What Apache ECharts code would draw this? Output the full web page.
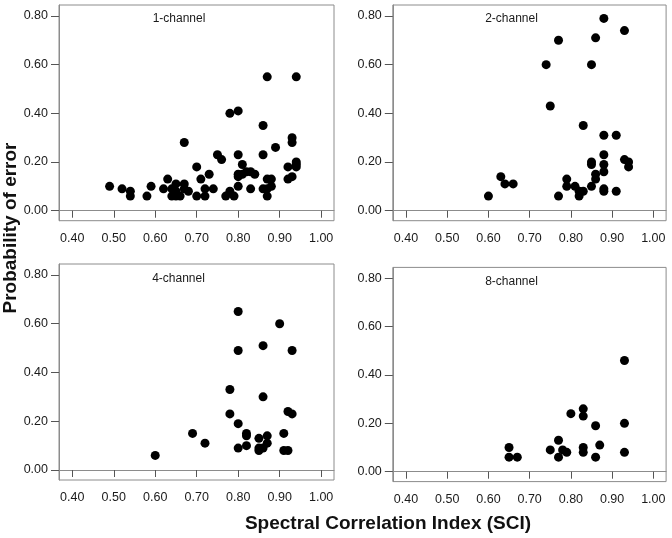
<!DOCTYPE html>
<html>
<head>
<meta charset="utf-8">
<script src="https://cdn.jsdelivr.net/npm/echarts@6/dist/echarts.min.js"></script>
<style>
html,body{margin:0;padding:0;background:#fff;}
#chart{width:672px;height:538px;}
</style>
</head>
<body>
<div id="chart"></div>
<script>
const xTicks = [0.4, 0.5, 0.6, 0.7, 0.8, 0.9, 1.0];
const yTicks = [0, 0.2, 0.4, 0.6, 0.8];
const panelNames = ['1-channel', '2-channel', '4-channel', '8-channel'];
const xTitle = 'Spectral Correlation Index (SCI)';
const yTitle = 'Probability of error';

const ch1 = [[0.49,0.10],[0.52,0.09],[0.54,0.08],[0.54,0.06],[0.58,0.06],[0.59,0.10],[0.62,0.09],[0.63,0.13],[0.64,0.09],[0.64,0.06],[0.65,0.11],[0.65,0.08],[0.65,0.06],[0.66,0.06],[0.67,0.11],[0.67,0.09],[0.67,0.28],[0.68,0.08],[0.70,0.18],[0.70,0.06],[0.71,0.13],[0.72,0.09],[0.72,0.06],[0.73,0.15],[0.74,0.09],[0.75,0.23],[0.76,0.21],[0.77,0.06],[0.78,0.08],[0.78,0.40],[0.79,0.06],[0.80,0.41],[0.80,0.23],[0.80,0.15],[0.80,0.14],[0.80,0.10],[0.81,0.19],[0.81,0.15],[0.82,0.16],[0.83,0.16],[0.84,0.15],[0.83,0.09],[0.86,0.35],[0.86,0.23],[0.86,0.09],[0.87,0.55],[0.87,0.13],[0.87,0.09],[0.87,0.06],[0.88,0.13],[0.88,0.10],[0.89,0.26],[0.92,0.18],[0.92,0.13],[0.93,0.14],[0.93,0.30],[0.93,0.28],[0.94,0.55],[0.94,0.20],[0.94,0.19],[0.94,0.18]];
const ch2 = [[0.60,0.06],[0.63,0.14],[0.64,0.11],[0.66,0.11],[0.74,0.60],[0.75,0.43],[0.77,0.70],[0.77,0.06],[0.79,0.13],[0.79,0.10],[0.81,0.10],[0.82,0.08],[0.82,0.06],[0.83,0.08],[0.83,0.35],[0.85,0.60],[0.85,0.20],[0.85,0.19],[0.85,0.10],[0.86,0.71],[0.86,0.15],[0.86,0.13],[0.88,0.79],[0.88,0.31],[0.88,0.23],[0.88,0.19],[0.88,0.16],[0.88,0.09],[0.88,0.08],[0.91,0.31],[0.91,0.08],[0.93,0.74],[0.93,0.21],[0.94,0.20],[0.94,0.18]];
const ch4 = [[0.60,0.06],[0.69,0.15],[0.72,0.11],[0.78,0.33],[0.78,0.23],[0.80,0.65],[0.80,0.49],[0.80,0.19],[0.80,0.09],[0.82,0.15],[0.82,0.14],[0.82,0.10],[0.85,0.13],[0.85,0.09],[0.85,0.08],[0.86,0.51],[0.86,0.30],[0.86,0.09],[0.87,0.14],[0.87,0.11],[0.90,0.60],[0.91,0.15],[0.91,0.08],[0.92,0.08],[0.92,0.24],[0.93,0.23],[0.93,0.49]];
const ch8 = [[0.65,0.10],[0.65,0.06],[0.67,0.06],[0.75,0.09],[0.77,0.13],[0.77,0.06],[0.78,0.09],[0.79,0.08],[0.80,0.24],[0.83,0.26],[0.83,0.23],[0.83,0.10],[0.83,0.08],[0.86,0.19],[0.86,0.06],[0.87,0.11],[0.93,0.46],[0.93,0.20],[0.93,0.08]];
const allData = [ch1, ch2, ch4, ch8];

const grids = [
  {left: 59, top: 5, width: 275, height: 215.7},
  {left: 392.8, top: 5, width: 273.3, height: 215.7},
  {left: 59, top: 264, width: 275, height: 216},
  {left: 392.8, top: 267.4, width: 273.3, height: 214.2}
];
const labelPos = [[179, 19], [511.5, 19], [178.5, 279], [511.5, 282]];

const borderColor = '#8c8c8c';
const font = 'Liberation Sans, Arial, sans-serif';

const chart = echarts.init(document.getElementById('chart'), null, {renderer: 'canvas'});

const option = {
  backgroundColor: '#ffffff',
  animation: false,
  grid: grids.map(g => Object.assign({show: true, borderColor: borderColor, borderWidth: 1, backgroundColor: 'transparent'}, g)),
  xAxis: grids.map((g, i) => ({
    type: 'value', gridIndex: i, min: 0.368, max: 1.031,
    axisLine: {show: true, lineStyle: {color: borderColor, width: 1}},
    axisTick: {show: true, length: 7, customValues: xTicks, lineStyle: {color: '#555'}},
    axisLabel: {show: true, customValues: xTicks, margin: 11, fontSize: 12.5, fontFamily: font, color: '#1a1a1a',
      formatter: v => v.toFixed(2)},
    splitLine: {show: false}
  })),
  yAxis: grids.map((g, i) => ({
    type: 'value', gridIndex: i, min: -0.041, max: 0.845,
    axisLine: {show: true, lineStyle: {color: borderColor, width: 1}},
    axisTick: {show: true, length: 8, customValues: yTicks, lineStyle: {color: '#555'}},
    axisLabel: {show: true, customValues: yTicks, margin: 11, fontSize: 12.5, fontFamily: font, color: '#1a1a1a',
      formatter: v => v.toFixed(2)},
    splitLine: {show: false}
  })),
  series: allData.map((d, i) => ({
    type: 'scatter', xAxisIndex: i, yAxisIndex: i, data: d,
    symbol: 'circle', symbolSize: 9,
    itemStyle: {color: '#000', opacity: 1}
  })),
  graphic: [
    ...panelNames.map((n, i) => ({
      type: 'text', x: labelPos[i][0], y: labelPos[i][1],
      style: {text: n, font: '12px ' + font, fill: '#1a1a1a', textAlign: 'center', textVerticalAlign: 'middle'}
    })),
    {type: 'text', x: 388, y: 524,
      style: {text: xTitle, font: 'bold 19px ' + font, fill: '#111', textAlign: 'center', textVerticalAlign: 'middle'}},
    {type: 'text', x: 11, y: 228, rotation: Math.PI / 2,
      style: {text: yTitle, font: 'bold 19px ' + font, fill: '#111', textAlign: 'center', textVerticalAlign: 'middle'}}
  ]
};
chart.setOption(option);
</script>
</body>
</html>
